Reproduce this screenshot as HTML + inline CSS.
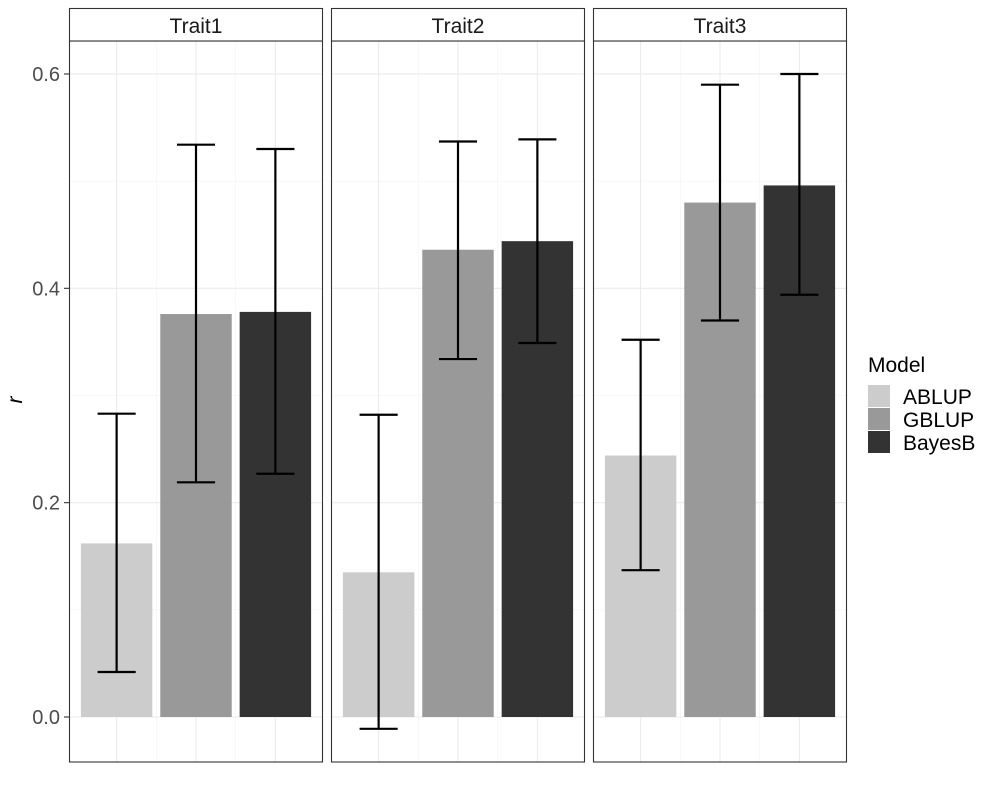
<!DOCTYPE html>
<html><head><meta charset="utf-8"><style>
body{margin:0;background:#fff;}
svg text{font-family:"Liberation Sans",Arial,sans-serif;}
</style></head><body>
<svg id="chart" width="1000" height="800" viewBox="0 0 1000 800" xmlns="http://www.w3.org/2000/svg"></svg>
<script>
const traits = ["Trait1","Trait2","Trait3"];
const models = ["ABLUP","GBLUP","BayesB"];
const colors = ["#cccccc","#999999","#333333"];
const meanVals = [[0.162,0.376,0.378],[0.135,0.436,0.444],[0.244,0.480,0.496]];
const lowVals = [[0.042,0.219,0.227],[-0.011,0.334,0.349],[0.137,0.370,0.394]];
const highVals = [[0.283,0.534,0.530],[0.282,0.537,0.539],[0.352,0.590,0.600]];
const yTicks = [0.0,0.2,0.4,0.6];
const yTickLabels = ["0.0","0.2","0.4","0.6"];
const yMinor = [0.1,0.3,0.5];

const NS="http://www.w3.org/2000/svg";
const svg=document.getElementById('chart');
function mk(tag,attrs,parent){const e=document.createElementNS(NS,tag);for(const k in attrs)e.setAttribute(k,attrs[k]);(parent||svg).appendChild(e);return e;}
const panelX=[69,331,593], panelW=254, panelTop=41, panelBottom=762;
const y=v=>717-(v)*1071.7;
const xs=(p,u)=>panelX[p]+(u-0.4)*panelW/3.2;
const unit=panelW/3.2;

traits.forEach((t,p)=>{
  const g=mk('g',{});
  
  
  yMinor.forEach(v=>mk('line',{x1:panelX[p],x2:panelX[p]+panelW,y1:y(v),y2:y(v),stroke:'#f3f3f3','stroke-width':0.6},g));
  [1.5,2.5].forEach(u=>mk('line',{x1:xs(p,u),x2:xs(p,u),y1:panelTop,y2:panelBottom,stroke:'#f3f3f3','stroke-width':0.6},g));
  yTicks.forEach(v=>mk('line',{x1:panelX[p],x2:panelX[p]+panelW,y1:y(v),y2:y(v),stroke:'#ebebeb','stroke-width':1.1},g));
  [1,2,3].forEach(u=>mk('line',{x1:xs(p,u),x2:xs(p,u),y1:panelTop,y2:panelBottom,stroke:'#ebebeb','stroke-width':1.1},g));
  models.forEach((m,i)=>{
    const cx=xs(p,i+1), v=meanVals[p][i];
    const b=mk('rect',{x:cx-0.45*unit,width:0.9*unit,y:Math.min(y(v),y(0)),height:Math.abs(y(0)-y(v)),fill:colors[i]},g);
    
    
    const eg=mk('g',{stroke:'#000','stroke-width':2.2,fill:'none'},g);
    
    
    const hw=0.24*unit;
    mk('line',{x1:cx,x2:cx,y1:y(lowVals[p][i]),y2:y(highVals[p][i])},eg);
    mk('line',{x1:cx-hw,x2:cx+hw,y1:y(lowVals[p][i]),y2:y(lowVals[p][i])},eg);
    mk('line',{x1:cx-hw,x2:cx+hw,y1:y(highVals[p][i]),y2:y(highVals[p][i])},eg);
  });
  mk('rect',{x:panelX[p]+0.5,y:panelTop,width:panelW-1,height:panelBottom-panelTop,fill:'none',stroke:'#333','stroke-width':1.1},g);
  const s=mk('rect',{x:panelX[p]+0.5,y:8.5,width:panelW-1,height:panelTop-8.5,fill:'#fff',stroke:'#333','stroke-width':1.1},g);
  
  
  const st=mk('text',{x:panelX[p]+panelW/2,y:33,'text-anchor':'middle','font-size':21,fill:'#1a1a1a'},g);
  st.textContent=t;
  
  
});
yTicks.forEach((v,i)=>{
  mk('line',{x1:64,x2:69,y1:y(v),y2:y(v),stroke:'#333','stroke-width':1.1});
  const tx=mk('text',{x:60,y:y(v)+7,'text-anchor':'end','font-size':20,fill:'#4d4d4d'});
  tx.textContent=yTickLabels[i];
  
  
});
const yt=mk('text',{x:22,y:400,'text-anchor':'middle','font-size':21,'font-style':'italic',transform:'rotate(-90 22 400)'});
yt.textContent='r';


const lg=mk('g',{});


const lt=mk('text',{x:868,y:372,'font-size':21},lg);
lt.textContent='Model';
models.forEach((m,i)=>{
  const e=mk('g',{},lg);
  
  
  mk('rect',{x:868,y:385+i*23,width:22,height:22,fill:colors[i]},e);
  const tx=mk('text',{x:903,y:404+i*23,'font-size':21},e);
  tx.textContent=m;
});
</script>
</body></html>
